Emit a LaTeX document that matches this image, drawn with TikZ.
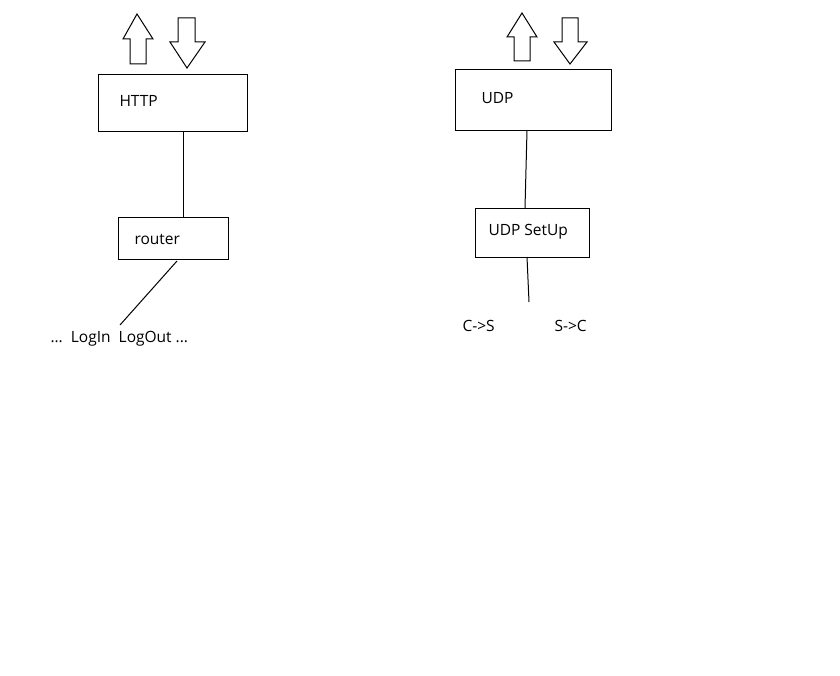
\documentclass[tikz,border=0pt]{standalone}
\usepackage{fontspec}
\setmainfont{Open Sans}
\begin{document}
\begin{tikzpicture}[x=1pt,y=-1pt,line width=1pt,
  boxstyle/.style={draw=black,line width=1pt},
  lbl/.style={anchor=west,inner sep=0pt,font=\fontsize{15.5}{18}\selectfont},
  link/.style={draw=black,line width=1pt},
  bigarrow/.style={draw=black,line width=1pt,fill=white,line join=miter}]
\useasboundingbox[fill=white] (0,0) rectangle (840,676);
% left column
\draw[bigarrow] (137,14) -- (153,39) -- (146,39) -- (146,64) -- (130,64) -- (130,39) -- (123,39) -- cycle;
\draw[bigarrow] (178,18) -- (195,18) -- (195,42) -- (205,42) -- (187,68) -- (170,42) -- (178,42) -- cycle;
\node[boxstyle,minimum width=149pt,minimum height=57pt,anchor=north west,inner sep=0pt] (http) at (98,74) {};
\node[lbl] (httpt) at (119,101) {HTTP};
\node[boxstyle,minimum width=110pt,minimum height=42pt,anchor=north west,inner sep=0pt] (router) at (118,217) {};
\node[lbl] (routert) at (134,239) {router};
\coordinate (rbot) at (177,261);
\coordinate (rend) at (120,325);
\draw[link] (183,131) -- (183,217);
\draw[link] (rbot) -- (rend);
\node[lbl] (logs) at (50,339) {...\ \ LogIn\ \ LogOut ...};
% right column
\draw[bigarrow] (522,13) -- (537,37) -- (530,37) -- (530,61) -- (514,61) -- (514,37) -- (507,37) -- cycle;
\draw[bigarrow] (562,18) -- (578,18) -- (578,42) -- (587,42) -- (570,64) -- (554,42) -- (562,42) -- cycle;
\node[boxstyle,minimum width=156pt,minimum height=61pt,anchor=north west,inner sep=0pt] (udp) at (455,69) {};
\node[lbl] (udpt) at (481,98) {UDP};
\node[boxstyle,minimum width=114pt,minimum height=49pt,anchor=north west,inner sep=0pt] (setup) at (475,208) {};
\node[lbl] (setupt) at (488,232) {UDP SetUp};
\coordinate (sbot) at (529,302);
\draw[link] (527,130) -- (525,208);
\draw[link] (527,257) -- (sbot);
\node[lbl] (cs) at (462,326) {C->S};
\node[lbl] (sc) at (554,326) {S->C};
\end{tikzpicture}
\end{document}
